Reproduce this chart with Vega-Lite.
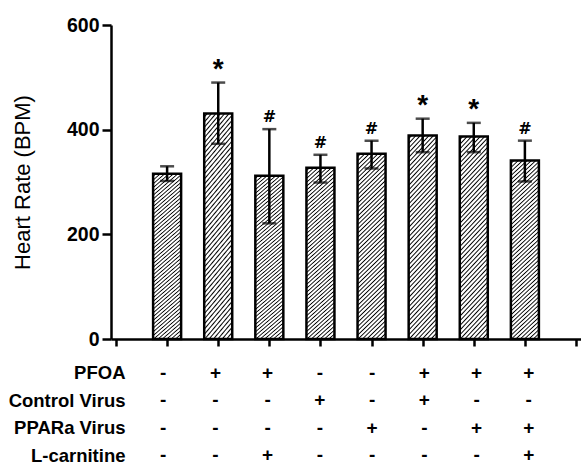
{
  "$schema": "https://vega.github.io/schema/vega-lite/v6.json",
  "padding": {"left": 8, "top": 15, "right": 0, "bottom": 0},
  "config": {"view": {"stroke": null}, "font": "Liberation Sans"},
  "datasets": {
    "bars": [
      {"pos": 1, "hr": 316, "lo": 302, "hi": 330, "sig": ""},
      {"pos": 2, "hr": 431, "lo": 373, "hi": 490, "sig": "*"},
      {"pos": 3, "hr": 312, "lo": 221, "hi": 401, "sig": "#"},
      {"pos": 4, "hr": 327, "lo": 299, "hi": 352, "sig": "#"},
      {"pos": 5, "hr": 354, "lo": 326, "hi": 379, "sig": "#"},
      {"pos": 6, "hr": 389, "lo": 357, "hi": 421, "sig": "*"},
      {"pos": 7, "hr": 387, "lo": 357, "hi": 413, "sig": "*"},
      {"pos": 8, "hr": 341, "lo": 301, "hi": 379, "sig": "#"}
    ],
    "table": [
      {"pos": 1, "factor": "PFOA", "sign": "-"},
      {"pos": 2, "factor": "PFOA", "sign": "+"},
      {"pos": 3, "factor": "PFOA", "sign": "+"},
      {"pos": 4, "factor": "PFOA", "sign": "-"},
      {"pos": 5, "factor": "PFOA", "sign": "-"},
      {"pos": 6, "factor": "PFOA", "sign": "+"},
      {"pos": 7, "factor": "PFOA", "sign": "+"},
      {"pos": 8, "factor": "PFOA", "sign": "+"},
      {"pos": 1, "factor": "Control Virus", "sign": "-"},
      {"pos": 2, "factor": "Control Virus", "sign": "-"},
      {"pos": 3, "factor": "Control Virus", "sign": "-"},
      {"pos": 4, "factor": "Control Virus", "sign": "+"},
      {"pos": 5, "factor": "Control Virus", "sign": "-"},
      {"pos": 6, "factor": "Control Virus", "sign": "+"},
      {"pos": 7, "factor": "Control Virus", "sign": "-"},
      {"pos": 8, "factor": "Control Virus", "sign": "-"},
      {"pos": 1, "factor": "PPARa Virus", "sign": "-"},
      {"pos": 2, "factor": "PPARa Virus", "sign": "-"},
      {"pos": 3, "factor": "PPARa Virus", "sign": "-"},
      {"pos": 4, "factor": "PPARa Virus", "sign": "-"},
      {"pos": 5, "factor": "PPARa Virus", "sign": "+"},
      {"pos": 6, "factor": "PPARa Virus", "sign": "-"},
      {"pos": 7, "factor": "PPARa Virus", "sign": "+"},
      {"pos": 8, "factor": "PPARa Virus", "sign": "+"},
      {"pos": 1, "factor": "L-carnitine", "sign": "-"},
      {"pos": 2, "factor": "L-carnitine", "sign": "-"},
      {"pos": 3, "factor": "L-carnitine", "sign": "+"},
      {"pos": 4, "factor": "L-carnitine", "sign": "-"},
      {"pos": 5, "factor": "L-carnitine", "sign": "-"},
      {"pos": 6, "factor": "L-carnitine", "sign": "-"},
      {"pos": 7, "factor": "L-carnitine", "sign": "-"},
      {"pos": 8, "factor": "L-carnitine", "sign": "+"}
    ]
  },
  "vconcat": [
    {
      "width": 470,
      "height": 314,
      "data": {"name": "bars"},
      "layer": [
        {
          "mark": {
            "type": "bar",
            "size": 28,
            "stroke": "black",
            "strokeWidth": 2.5,
            "fill": {
              "gradient": "linear",
              "x1": 0, "y1": 0, "x2": 0.165, "y2": 1.123,
              "stops": [
                {"offset":0,"color":"#fff"},{"offset":0.008,"color":"#fff"},{"offset":0.014,"color":"#000"},
                {"offset":0.02,"color":"#fff"},{"offset":0.028,"color":"#fff"},{"offset":0.034,"color":"#000"},
                {"offset":0.04,"color":"#fff"},{"offset":0.048,"color":"#fff"},{"offset":0.054,"color":"#000"},
                {"offset":0.06,"color":"#fff"},{"offset":0.068,"color":"#fff"},{"offset":0.074,"color":"#000"},
                {"offset":0.08,"color":"#fff"},{"offset":0.088,"color":"#fff"},{"offset":0.094,"color":"#000"},
                {"offset":0.10,"color":"#fff"},{"offset":0.108,"color":"#fff"},{"offset":0.114,"color":"#000"},
                {"offset":0.12,"color":"#fff"},{"offset":0.128,"color":"#fff"},{"offset":0.134,"color":"#000"},
                {"offset":0.14,"color":"#fff"},{"offset":0.148,"color":"#fff"},{"offset":0.154,"color":"#000"},
                {"offset":0.16,"color":"#fff"},{"offset":0.168,"color":"#fff"},{"offset":0.174,"color":"#000"},
                {"offset":0.18,"color":"#fff"},{"offset":0.188,"color":"#fff"},{"offset":0.194,"color":"#000"},
                {"offset":0.20,"color":"#fff"},{"offset":0.208,"color":"#fff"},{"offset":0.214,"color":"#000"},
                {"offset":0.22,"color":"#fff"},{"offset":0.228,"color":"#fff"},{"offset":0.234,"color":"#000"},
                {"offset":0.24,"color":"#fff"},{"offset":0.248,"color":"#fff"},{"offset":0.254,"color":"#000"},
                {"offset":0.26,"color":"#fff"},{"offset":0.268,"color":"#fff"},{"offset":0.274,"color":"#000"},
                {"offset":0.28,"color":"#fff"},{"offset":0.288,"color":"#fff"},{"offset":0.294,"color":"#000"},
                {"offset":0.30,"color":"#fff"},{"offset":0.308,"color":"#fff"},{"offset":0.314,"color":"#000"},
                {"offset":0.32,"color":"#fff"},{"offset":0.328,"color":"#fff"},{"offset":0.334,"color":"#000"},
                {"offset":0.34,"color":"#fff"},{"offset":0.348,"color":"#fff"},{"offset":0.354,"color":"#000"},
                {"offset":0.36,"color":"#fff"},{"offset":0.368,"color":"#fff"},{"offset":0.374,"color":"#000"},
                {"offset":0.38,"color":"#fff"},{"offset":0.388,"color":"#fff"},{"offset":0.394,"color":"#000"},
                {"offset":0.40,"color":"#fff"},{"offset":0.408,"color":"#fff"},{"offset":0.414,"color":"#000"},
                {"offset":0.42,"color":"#fff"},{"offset":0.428,"color":"#fff"},{"offset":0.434,"color":"#000"},
                {"offset":0.44,"color":"#fff"},{"offset":0.448,"color":"#fff"},{"offset":0.454,"color":"#000"},
                {"offset":0.46,"color":"#fff"},{"offset":0.468,"color":"#fff"},{"offset":0.474,"color":"#000"},
                {"offset":0.48,"color":"#fff"},{"offset":0.488,"color":"#fff"},{"offset":0.494,"color":"#000"},
                {"offset":0.50,"color":"#fff"},{"offset":0.508,"color":"#fff"},{"offset":0.514,"color":"#000"},
                {"offset":0.52,"color":"#fff"},{"offset":0.528,"color":"#fff"},{"offset":0.534,"color":"#000"},
                {"offset":0.54,"color":"#fff"},{"offset":0.548,"color":"#fff"},{"offset":0.554,"color":"#000"},
                {"offset":0.56,"color":"#fff"},{"offset":0.568,"color":"#fff"},{"offset":0.574,"color":"#000"},
                {"offset":0.58,"color":"#fff"},{"offset":0.588,"color":"#fff"},{"offset":0.594,"color":"#000"},
                {"offset":0.60,"color":"#fff"},{"offset":0.608,"color":"#fff"},{"offset":0.614,"color":"#000"},
                {"offset":0.62,"color":"#fff"},{"offset":0.628,"color":"#fff"},{"offset":0.634,"color":"#000"},
                {"offset":0.64,"color":"#fff"},{"offset":0.648,"color":"#fff"},{"offset":0.654,"color":"#000"},
                {"offset":0.66,"color":"#fff"},{"offset":0.668,"color":"#fff"},{"offset":0.674,"color":"#000"},
                {"offset":0.68,"color":"#fff"},{"offset":0.688,"color":"#fff"},{"offset":0.694,"color":"#000"},
                {"offset":0.70,"color":"#fff"},{"offset":0.708,"color":"#fff"},{"offset":0.714,"color":"#000"},
                {"offset":0.72,"color":"#fff"},{"offset":0.728,"color":"#fff"},{"offset":0.734,"color":"#000"},
                {"offset":0.74,"color":"#fff"},{"offset":0.748,"color":"#fff"},{"offset":0.754,"color":"#000"},
                {"offset":0.76,"color":"#fff"},{"offset":0.768,"color":"#fff"},{"offset":0.774,"color":"#000"},
                {"offset":0.78,"color":"#fff"},{"offset":0.788,"color":"#fff"},{"offset":0.794,"color":"#000"},
                {"offset":0.80,"color":"#fff"},{"offset":0.808,"color":"#fff"},{"offset":0.814,"color":"#000"},
                {"offset":0.82,"color":"#fff"},{"offset":0.828,"color":"#fff"},{"offset":0.834,"color":"#000"},
                {"offset":0.84,"color":"#fff"},{"offset":0.848,"color":"#fff"},{"offset":0.854,"color":"#000"},
                {"offset":0.86,"color":"#fff"},{"offset":0.868,"color":"#fff"},{"offset":0.874,"color":"#000"},
                {"offset":0.88,"color":"#fff"},{"offset":0.888,"color":"#fff"},{"offset":0.894,"color":"#000"},
                {"offset":0.90,"color":"#fff"},{"offset":0.908,"color":"#fff"},{"offset":0.914,"color":"#000"},
                {"offset":0.92,"color":"#fff"},{"offset":0.928,"color":"#fff"},{"offset":0.934,"color":"#000"},
                {"offset":0.94,"color":"#fff"},{"offset":0.948,"color":"#fff"},{"offset":0.954,"color":"#000"},
                {"offset":0.96,"color":"#fff"},{"offset":0.968,"color":"#fff"},{"offset":0.974,"color":"#000"},
                {"offset":0.98,"color":"#fff"},{"offset":0.988,"color":"#fff"},{"offset":0.994,"color":"#000"},
                {"offset":1,"color":"#fff"}
              ]
            }
          },
          "encoding": {
            "x": {
              "field": "pos", "type": "quantitative",
              "scale": {"domain": [0, 9], "nice": false, "zero": false},
              "axis": {
                "values": [0, 1, 2, 3, 4, 5, 6, 7, 8, 9],
                "labels": false, "title": null, "grid": false,
                "tickSize": 7, "tickWidth": 2.5, "tickColor": "black",
                "domainWidth": 2.5, "domainColor": "black"
              }
            },
            "y": {
              "field": "hr", "type": "quantitative",
              "title": "Heart Rate (BPM)",
              "scale": {"domain": [0, 600], "nice": false},
              "axis": {
                "values": [0, 200, 400, 600], "grid": false,
                "tickSize": 9, "tickWidth": 2.5, "tickColor": "black",
                "domainWidth": 2.5, "domainColor": "black",
                "labelFontSize": 19.5, "labelFontWeight": "bold", "labelColor": "black", "labelPadding": 3,
                "title": "Heart Rate (BPM)", "titleFontSize": 22, "titleFontWeight": "normal",
                "titleColor": "black", "titlePadding": 32
              }
            }
          }
        },
        {
          "mark": {
            "type": "errorbar",
            "color": "black",
            "rule": {"strokeWidth": 2.5},
            "ticks": {"size": 14, "thickness": 2.5, "color": "black"}
          },
          "encoding": {
            "x": {"field": "pos", "type": "quantitative"},
            "y": {"field": "lo", "type": "quantitative", "title": "Heart Rate (BPM)"},
            "y2": {"field": "hi"}
          }
        },
        {
          "transform": [{"filter": "datum.sig == '*'"}],
          "mark": {"type": "text", "fontSize": 28, "fontWeight": "bold", "baseline": "alphabetic", "dy": -5, "color": "black"},
          "encoding": {
            "x": {"field": "pos", "type": "quantitative"},
            "y": {"field": "hi", "type": "quantitative", "title": "Heart Rate (BPM)"},
            "text": {"field": "sig"}
          }
        },
        {
          "transform": [{"filter": "datum.sig == '#'"}],
          "mark": {"type": "text", "font": "DejaVu Sans", "fontSize": 16, "fontWeight": "bold", "baseline": "alphabetic", "dy": -7, "color": "black"},
          "encoding": {
            "x": {"field": "pos", "type": "quantitative"},
            "y": {"field": "hi", "type": "quantitative", "title": "Heart Rate (BPM)"},
            "text": {"field": "sig"}
          }
        }
      ]
    },
    {
      "width": 470,
      "height": 110,
      "data": {"name": "table"},
      "mark": {"type": "text", "fontSize": 19, "fontWeight": "bold", "color": "black"},
      "encoding": {
        "x": {
          "field": "pos", "type": "quantitative",
          "scale": {"domain": [0, 9], "nice": false, "zero": false},
          "axis": null
        },
        "y": {
          "field": "factor", "type": "nominal",
          "sort": ["PFOA", "Control Virus", "PPARa Virus", "L-carnitine"],
          "scale": {"paddingInner": 0, "paddingOuter": 0},
          "axis": {
            "title": null, "domain": false, "ticks": false,
            "labelFontSize": 18.5, "labelFontWeight": "bold", "labelColor": "black",
            "labelPadding": -14
          }
        },
        "text": {"field": "sign"}
      }
    }
  ],
  "spacing": 10
}
